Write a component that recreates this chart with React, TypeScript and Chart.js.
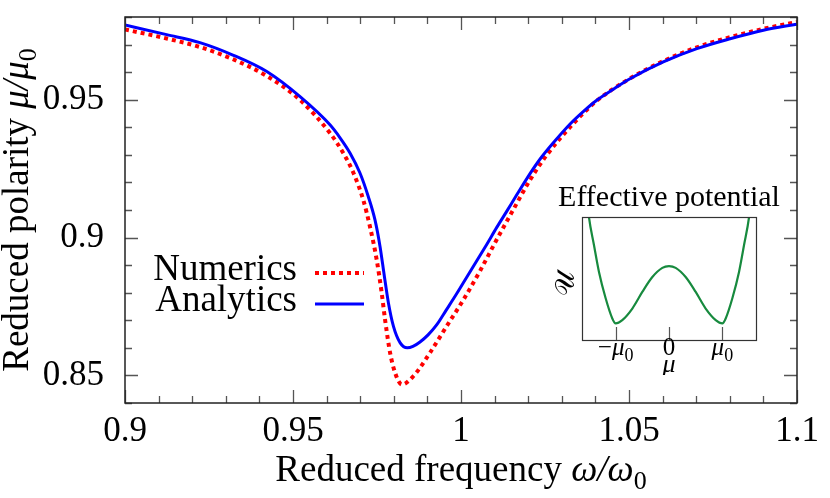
import React, { useEffect, useRef } from 'react';
import { Chart, registerables } from 'chart.js';

Chart.register(...registerables);

const SERIF = '"Liberation Serif", "Times New Roman", serif';

// ---------- main chart data ----------
const numericsX = [0.9, 0.9124, 0.9223, 0.9321, 0.9422, 0.9521, 0.961, 0.965, 0.968, 0.9709, 0.9729, 0.9749, 0.9764, 0.9774, 0.9789, 0.9804, 0.9824, 0.9858, 0.9908, 0.9957, 1.0007, 1.0057, 1.0106, 1.0156, 1.0205, 1.0255, 1.0334, 1.0404, 1.0503, 1.0602, 1.0702, 1.0801, 1.09, 1.1];
const numericsY = [0.9755, 0.9722, 0.9691, 0.9647, 0.9586, 0.9499, 0.9379, 0.9306, 0.9234, 0.9137, 0.904, 0.892, 0.8799, 0.8702, 0.8582, 0.8509, 0.8467, 0.8497, 0.8583, 0.8678, 0.8774, 0.888, 0.8992, 0.9102, 0.9208, 0.9299, 0.9413, 0.9496, 0.9577, 0.964, 0.969, 0.9727, 0.9757, 0.9782];

const analyticsX = [0.9, 0.9124, 0.9223, 0.9321, 0.9422, 0.9521, 0.961, 0.964, 0.967, 0.9699, 0.9724, 0.9744, 0.9759, 0.9772, 0.9784, 0.9799, 0.9819, 0.984, 0.9857, 0.9878, 0.9902, 0.9928, 0.9955, 0.9987, 1.0017, 1.0047, 1.0077, 1.0106, 1.0136, 1.0166, 1.0205, 1.0235, 1.028, 1.0324, 1.0363, 1.0404, 1.0452, 1.0503, 1.0602, 1.0702, 1.0801, 1.09, 1.1];
const analyticsY = [0.9771, 0.9736, 0.9707, 0.9662, 0.9602, 0.9511, 0.9409, 0.9362, 0.9306, 0.9235, 0.9149, 0.9064, 0.8968, 0.8859, 0.8763, 0.8678, 0.8618, 0.86, 0.8605, 0.8621, 0.8647, 0.8684, 0.8735, 0.8796, 0.8856, 0.8916, 0.8976, 0.9036, 0.9095, 0.9155, 0.9231, 0.9284, 0.9351, 0.9411, 0.9456, 0.9498, 0.9537, 0.9576, 0.9637, 0.9685, 0.9721, 0.9752, 0.9774];

const seriesLabels = ['Numerics', 'Analytics'];

const xTickValues = [0.9, 0.95, 1, 1.05, 1.1];
const xTickLabels = ['0.9', '0.95', '1', '1.05', '1.1'];
const yTickValues = [0.85, 0.9, 0.95];
const yTickLabels = ['0.85', '0.9', '0.95'];

// ---------- inset data ----------
const potentialMu = [-1.56, -1.5, -1.406, -1.312, -1.187, -1.062, -1.0, -0.875, -0.687, -0.5, -0.312, -0.125, 0, 0.125, 0.312, 0.5, 0.687, 0.875, 1.0, 1.062, 1.187, 1.312, 1.406, 1.5, 1.56];
const potentialU = [2.4, 1.86, 1.37, 0.9, 0.44, 0.087, 0, 0.058, 0.26, 0.55, 0.81, 0.97, 1, 0.97, 0.81, 0.55, 0.26, 0.058, 0, 0.087, 0.44, 0.9, 1.37, 1.86, 2.4];
const insetTickValues = [-1, 0, 1];

type Seg = { t: string; it?: boolean; sub?: boolean };

function drawRich(ctx: CanvasRenderingContext2D, segs: Seg[], x: number, y: number, size: number, align: 'left' | 'center' | 'right') {
  const fontFor = (s: Seg) => `${s.it ? 'italic ' : ''}${s.sub ? Math.round(size * 0.7) : size}px ${SERIF}`;
  const widths = segs.map((s) => {
    ctx.font = fontFor(s);
    return ctx.measureText(s.t).width;
  });
  const total = widths.reduce((a, b) => a + b, 0);
  let cx = align === 'center' ? x - total / 2 : align === 'right' ? x - total : x;
  ctx.textAlign = 'left';
  ctx.textBaseline = 'alphabetic';
  segs.forEach((s, i) => {
    ctx.font = fontFor(s);
    ctx.fillText(s.t, cx, y + (s.sub ? size * 0.22 : 0));
    cx += widths[i];
  });
}

const mainPlugin = {
  id: 'mainDecor',
  afterDatasetsDraw(chart: any) {
    const ctx: CanvasRenderingContext2D = chart.ctx;
    const { left, right, top, bottom } = chart.chartArea;
    const xs = chart.scales.x;
    const ys = chart.scales.y;
    ctx.save();
    // ticks (inward, on all four sides)
    ctx.strokeStyle = '#555';
    ctx.lineWidth = 1.3;
    ctx.beginPath();
    for (let i = 90; i <= 110; i++) {
      const px = Math.round(xs.getPixelForValue(i / 100)) + 0.5;
      const len = i % 5 === 0 ? 13 : 7;
      ctx.moveTo(px, bottom);
      ctx.lineTo(px, bottom - len);
      ctx.moveTo(px, top);
      ctx.lineTo(px, top + len);
    }
    for (let i = 84; i <= 98; i++) {
      const py = Math.round(ys.getPixelForValue(i / 100)) + 0.5;
      const len = i % 5 === 0 ? 13 : 7;
      ctx.moveTo(left, py);
      ctx.lineTo(left + len, py);
      ctx.moveTo(right, py);
      ctx.lineTo(right - len, py);
    }
    ctx.stroke();
    // frame
    ctx.strokeStyle = '#222';
    ctx.lineWidth = 1.5;
    ctx.strokeRect(left, top, right - left, bottom - top);

    // legend
    const ds = chart.data.datasets;
    const rows = [top + 256, top + 287];
    ds.forEach((d: any, i: number) => {
      const y = rows[i];
      ctx.fillStyle = '#000';
      ctx.font = `37px ${SERIF}`;
      ctx.textAlign = 'right';
      ctx.textBaseline = 'alphabetic';
      ctx.fillText(d.label, left + 172, y + 7);
      ctx.beginPath();
      ctx.strokeStyle = d.borderColor;
      ctx.lineWidth = d.borderWidth;
      ctx.setLineDash(d.borderDash || []);
      ctx.moveTo(left + 190, y);
      ctx.lineTo(left + 239, y);
      ctx.stroke();
      ctx.setLineDash([]);
    });

    // axis titles
    ctx.fillStyle = '#000';
    drawRich(ctx, [{ t: 'Reduced frequency ' }, { t: 'ω/ω', it: true }, { t: '0', sub: true }], (left + right) / 2, 481, 37, 'center');
    ctx.save();
    ctx.translate(28, (top + bottom) / 2);
    ctx.rotate(-Math.PI / 2);
    drawRich(ctx, [{ t: 'Reduced polarity ' }, { t: 'μ/μ', it: true }, { t: '0', sub: true }], 0, 0, 37, 'center');
    ctx.restore();
    ctx.restore();
  },
};

const insetPlugin = {
  id: 'insetDecor',
  afterDatasetsDraw(chart: any) {
    const ctx: CanvasRenderingContext2D = chart.ctx;
    const { left, right, top, bottom } = chart.chartArea;
    const xs = chart.scales.x;
    ctx.save();
    ctx.strokeStyle = '#333';
    ctx.lineWidth = 1.2;
    ctx.strokeRect(left + 0.5, top + 0.5, right - left, bottom - top);
    ctx.strokeStyle = '#555';
    ctx.beginPath();
    insetTickValues.forEach((v) => {
      const px = Math.round(xs.getPixelForValue(v)) + 0.5;
      ctx.moveTo(px, bottom);
      ctx.lineTo(px, bottom - 13);
    });
    ctx.stroke();
    ctx.fillStyle = '#000';
    const cx = (left + right) / 2;
    drawRich(ctx, [{ t: 'Effective potential' }], cx, top - 11, 30, 'center');
    const lab: Seg[][] = [
      [{ t: '−' }, { t: 'μ', it: true }, { t: '0', sub: true }],
      [{ t: '0' }],
      [{ t: 'μ', it: true }, { t: '0', sub: true }],
    ];
    insetTickValues.forEach((v, i) => {
      drawRich(ctx, lab[i], xs.getPixelForValue(v), bottom + 15, 25, 'center');
    });
    drawRich(ctx, [{ t: 'μ', it: true }], cx, bottom + 32, 26, 'center');
    ctx.save();
    ctx.translate(left - 8, (top + bottom) / 2 + 5);
    ctx.rotate(-Math.PI / 2);
    drawRich(ctx, [{ t: '𝒰' }], 0, 0, 27, 'center');
    ctx.restore();
    ctx.restore();
  },
};

const noPad = (s: any) => {
  s.paddingTop = 0;
  s.paddingBottom = 0;
  s.paddingLeft = 0;
  s.paddingRight = 0;
};

export default function App() {
  const mainRef = useRef<HTMLCanvasElement>(null);
  const insetRef = useRef<HTMLCanvasElement>(null);

  useEffect(() => {
    const numerics = numericsX.map((x, i) => ({ x, y: numericsY[i] }));
    const analytics = analyticsX.map((x, i) => ({ x, y: analyticsY[i] }));
    const main = new Chart(mainRef.current!, {
      type: 'scatter',
      data: {
        datasets: [
          {
            label: seriesLabels[0],
            data: numerics,
            showLine: true,
            borderColor: '#ff0000',
            backgroundColor: '#ff0000',
            borderWidth: 4,
            borderDash: [4, 4],
            pointRadius: 0,
            cubicInterpolationMode: 'monotone',
            order: 1,
          },
          {
            label: seriesLabels[1],
            data: analytics,
            showLine: true,
            borderColor: '#0000ff',
            backgroundColor: '#0000ff',
            borderWidth: 3,
            pointRadius: 0,
            cubicInterpolationMode: 'monotone',
            order: 0,
          },
        ],
      } as any,
      options: {
        animation: false,
        responsive: false,
        devicePixelRatio: 1,
        layout: { padding: { top: 17, right: 33, left: 0, bottom: 0 } },
        plugins: { legend: { display: false }, tooltip: { enabled: false } },
        scales: {
          x: {
            type: 'linear',
            min: 0.9,
            max: 1.1,
            grid: { display: false, drawTicks: false, tickLength: 0 },
            border: { display: false },
            afterFit: (s: any) => { s.height = 95; noPad(s); },
            afterBuildTicks: (s: any) => { s.ticks = xTickValues.map((v) => ({ value: v })); },
            ticks: {
              autoSkip: false,
              maxRotation: 0,
              padding: 8,
              color: '#000',
              font: { family: SERIF, size: 35 },
              callback: (v: any) => xTickLabels[xTickValues.findIndex((t) => Math.abs(t - v) < 1e-9)] ?? '',
            },
          },
          y: {
            type: 'linear',
            min: 0.84,
            max: 0.98,
            grid: { display: false, drawTicks: false, tickLength: 0 },
            border: { display: false },
            afterFit: (s: any) => { s.width = 125; noPad(s); },
            afterBuildTicks: (s: any) => { s.ticks = yTickValues.map((v) => ({ value: v })); },
            ticks: {
              autoSkip: false,
              padding: 21,
              color: '#000',
              font: { family: SERIF, size: 35 },
              callback: (v: any) => yTickLabels[yTickValues.findIndex((t) => Math.abs(t - v) < 1e-9)] ?? '',
            },
          },
        },
      } as any,
      plugins: [mainPlugin],
    });

    const potential = potentialMu.map((x, i) => ({ x, y: potentialU[i] }));
    const inset = new Chart(insetRef.current!, {
      type: 'scatter',
      data: {
        datasets: [
          {
            data: potential,
            showLine: true,
            borderColor: '#178a3e',
            borderWidth: 2.2,
            pointRadius: 0,
            cubicInterpolationMode: 'monotone',
          },
        ],
      } as any,
      options: {
        animation: false,
        responsive: false,
        devicePixelRatio: 1,
        layout: { padding: { top: 42, left: 42, right: 34, bottom: 35 } },
        plugins: { legend: { display: false }, tooltip: { enabled: false } },
        scales: {
          x: { type: 'linear', display: false, min: -1.63, max: 1.63 },
          y: { type: 'linear', display: false, min: -0.29, max: 1.86 },
        },
      } as any,
      plugins: [insetPlugin],
    });

    return () => {
      main.destroy();
      inset.destroy();
    };
  }, []);

  return (
    <div style={{ position: 'fixed', left: 0, top: 0, width: 830, height: 498, background: '#fff' }}>
      <canvas ref={mainRef} width={830} height={498} style={{ position: 'absolute', left: 0, top: 0, width: 830, height: 498 }} />
      <canvas ref={insetRef} width={250} height={200} style={{ position: 'absolute', left: 540, top: 175, width: 250, height: 200 }} />
    </div>
  );
}
